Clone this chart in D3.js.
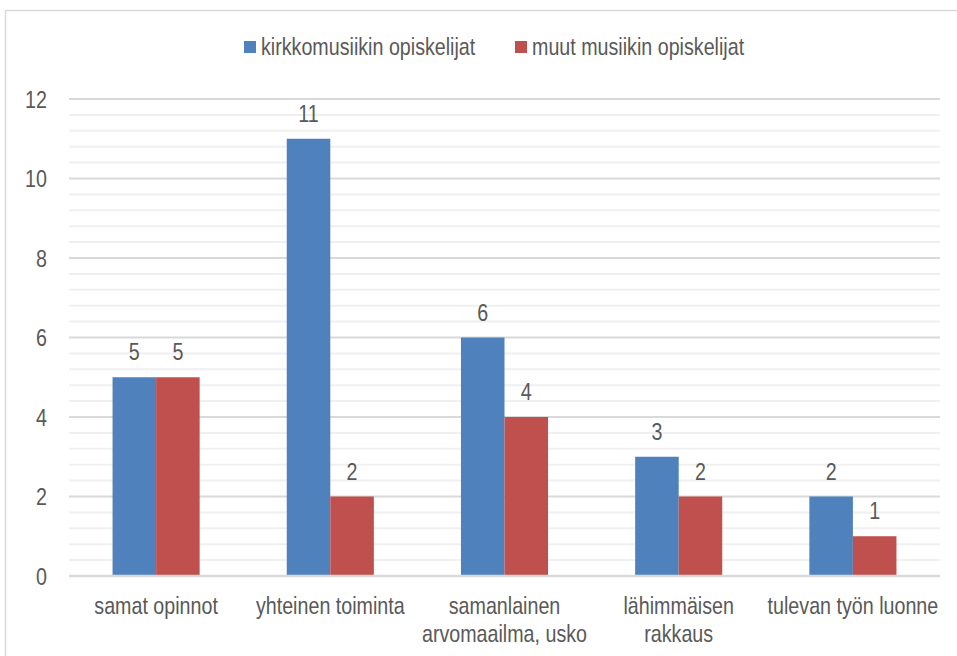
<!DOCTYPE html>
<html>
<head>
<meta charset="utf-8">
<script src="https://cdn.jsdelivr.net/npm/d3@7"></script>
<style>
    body { margin: 0; background: #fff; }
    svg text { font-family: "Liberation Sans", Arial, sans-serif; fill: #595959; }
</style>
</head>
<body>
<div id="chart"></div>
<script>
(function(d3) {
    'use strict';

    var categories = ['samat opinnot', 'yhteinen toiminta', 'samanlainen\narvomaailma, usko', 'lähimmäisen\nrakkaus', 'tulevan työn luonne'];
    var seriesNames = ['kirkkomusiikin opiskelijat', 'muut musiikin opiskelijat'];
    var kirkkoValues = [5, 11, 6, 3, 2];
    var muutValues = [5, 2, 4, 2, 1];
    var yTicks = [0, 2, 4, 6, 8, 10, 12];
    var colors = ['#4f81bd', '#c0504d'];

    var width = 957, height = 656;
    var margin = { top: 99, right: 17, bottom: 80, left: 69 };
    var narrow = 'scale(0.82,1)';   // no Arial Narrow here, squeeze Liberation Sans instead

    function place(x, y) {
        return 'translate(' + x + ',' + y + ') ' + narrow;
    }

    var svg = d3.select('#chart').append('svg')
        .attr('width', width)
        .attr('height', height);

    // frame
    svg.append('rect')
        .attr('x', 5.5).attr('y', 10.5)
        .attr('width', width + 10).attr('height', height + 10)
        .attr('fill', 'none')
        .attr('stroke', '#d9d9d9')
        .attr('stroke-width', 1.5);

    var x0 = d3.scaleBand()
        .domain(d3.range(categories.length))
        .range([margin.left, width - margin.right])
        .paddingInner(0.5)
        .paddingOuter(0.25);

    var x1 = d3.scaleBand()
        .domain([0, 1])
        .range([0, x0.bandwidth()]);

    var y = d3.scaleLinear()
        .domain([0, 12])
        .range([height - margin.bottom, margin.top]);

    // minor grid
    svg.append('g')
        .selectAll('line')
        .data(d3.range(0, 12.01, 0.4).filter(function(v) { return Math.abs(v / 2 - Math.round(v / 2)) > 0.01; }))
        .enter().append('line')
        .attr('x1', margin.left).attr('x2', width - margin.right)
        .attr('y1', function(d) { return y(d); })
        .attr('y2', function(d) { return y(d); })
        .attr('stroke', '#f0f0f0')
        .attr('stroke-width', 2);

    // major grid
    svg.append('g')
        .selectAll('line')
        .data(yTicks)
        .enter().append('line')
        .attr('x1', margin.left).attr('x2', width - margin.right)
        .attr('y1', function(d) { return y(d); })
        .attr('y2', function(d) { return y(d); })
        .attr('stroke', '#d9d9d9')
        .attr('stroke-width', 2);

    var yAxis = svg.append('g')
        .attr('transform', 'translate(' + (margin.left - 22) + ',0)')
        .call(d3.axisLeft(y).tickValues(yTicks).tickSize(0).tickPadding(0));
    yAxis.select('.domain').remove();
    yAxis.selectAll('text')
        .style('font-size', '24px')
        .attr('x', 0)
        .attr('dy', '0.35em')
        .attr('transform', narrow);

    var data = categories.map(function(c, i) {
        return [kirkkoValues[i], muutValues[i]];
    });

    var groups = svg.append('g')
        .selectAll('g')
        .data(data)
        .enter().append('g')
        .attr('transform', function(d, i) { return 'translate(' + x0(i) + ',0)'; });

    groups.selectAll('rect')
        .data(function(d) { return d; })
        .enter().append('rect')
        .attr('x', function(d, j) { return x1(j); })
        .attr('y', function(d) { return y(d); })
        .attr('width', x1.bandwidth())
        .attr('height', function(d) { return y(0) - y(d); })
        .attr('fill', function(d, j) { return colors[j]; });

    groups.selectAll('text')
        .data(function(d) { return d; })
        .enter().append('text')
        .attr('transform', function(d, j) { return place(x1(j) + x1.bandwidth() / 2, y(d) - 17); })
        .attr('text-anchor', 'middle')
        .style('font-size', '24px')
        .text(function(d) { return d; });

    // baseline
    svg.append('line')
        .attr('x1', margin.left).attr('x2', width - margin.right)
        .attr('y1', y(0)).attr('y2', y(0))
        .attr('stroke', '#d9d9d9')
        .attr('stroke-width', 2.5);

    // category labels
    var xLabels = svg.append('g')
        .selectAll('text')
        .data(categories)
        .enter().append('text')
        .attr('text-anchor', 'middle')
        .attr('transform', function(d, i) { return place(x0(i) + x0.bandwidth() / 2, y(0) + 38); })
        .style('font-size', '24px');

    xLabels.selectAll('tspan')
        .data(function(d) { return d.split('\n'); })
        .enter().append('tspan')
        .attr('x', 0)
        .attr('dy', function(d, i) { return i === 0 ? 0 : 28; })
        .text(function(d) { return d; });

    // legend
    var legendX = [244, 515];
    var legend = svg.append('g')
        .selectAll('g')
        .data(seriesNames)
        .enter().append('g')
        .attr('transform', function(d, i) { return 'translate(' + legendX[i] + ',41)'; });

    legend.append('rect')
        .attr('width', 12).attr('height', 12)
        .attr('fill', function(d, i) { return colors[i]; });

    legend.append('text')
        .attr('transform', place(17, 14))
        .style('font-size', '24px')
        .text(function(d) { return d; });

})(window.d3);
</script>
</body>
</html>
